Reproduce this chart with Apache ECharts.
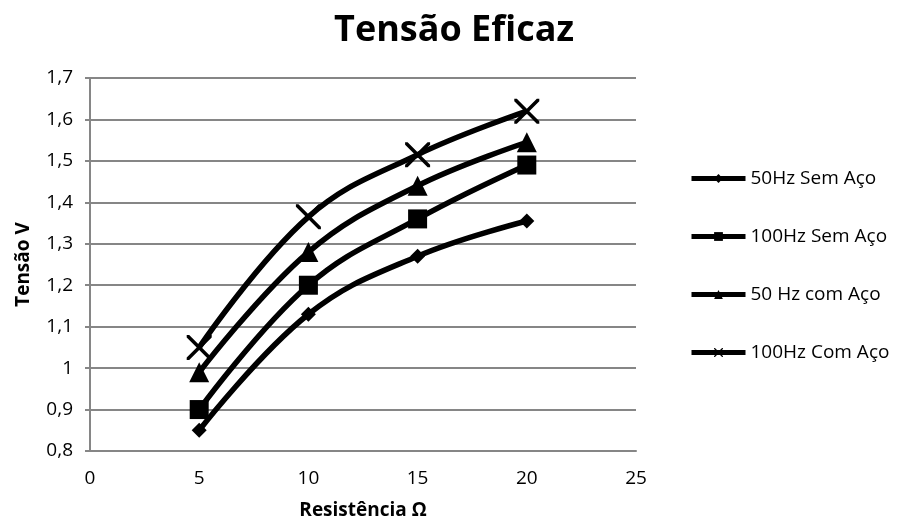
<!DOCTYPE html>
<html>
<head>
<meta charset="utf-8">
<script src="https://cdn.jsdelivr.net/npm/echarts@6/dist/echarts.min.js"></script>
<style>
  html, body { margin: 0; padding: 0; background: #fff; }
  #chart { width: 898px; height: 525px; }
</style>
</head>
<body>
<div id="chart"></div>
<script>
// Resistance (Ω) at which each measurement was taken
const resistencias = [5, 10, 15, 20];

// RMS voltage (V) per test configuration
const v50SemAco  = [0.85, 1.13, 1.27, 1.355];
const v100SemAco = [0.90, 1.20, 1.36, 1.49];
const v50ComAco  = [0.99, 1.28, 1.44, 1.545];
const v100ComAco = [1.05, 1.365, 1.515, 1.62];

const nomes = ['50Hz Sem Aço', '100Hz Sem Aço', '50 Hz com Aço', '100Hz Com Aço'];

const FONT = '"Open Sans", "Noto Sans", sans-serif';
const crossPath = 'path://M0,0 L2,0 L10,8 L18,0 L20,0 L20,2 L12,10 L20,18 L20,20 L18,20 L10,12 L2,20 L0,20 L0,18 L8,10 L0,2 Z';

function pares(vals) {
  return resistencias.map((r, i) => [r, vals[i]]);
}

function serie(nome, vals, symbol, size) {
  return {
    name: nome,
    type: 'line',
    smooth: 0.4,
    data: pares(vals),
    symbol: symbol,
    symbolSize: size,
    showAllSymbol: true,
    lineStyle: { color: '#000', width: 5.5 },
    itemStyle: { color: '#000', borderWidth: 0 },
    emphasis: { disabled: true },
    z: 3
  };
}

const chart = echarts.init(document.getElementById('chart'), null, { renderer: 'canvas' });

chart.setOption({
  animation: false,
  backgroundColor: '#fff',
  title: {
    text: 'Tensão Eficaz',
    left: 449,
    textAlign: 'center',
    top: 8,
    textStyle: { fontFamily: FONT, fontWeight: 'bold', fontSize: 36, color: '#000' }
  },
  grid: { left: 90, right: 262, top: 78, bottom: 74 },
  legend: {
    orient: 'vertical',
    left: 684,
    top: 164,
    itemWidth: 54,
    itemHeight: 11,
    itemGap: 39,
    data: nomes,
    lineStyle: { width: 5, color: '#000' },
    textStyle: { fontFamily: FONT, fontSize: 19, color: '#000' }
  },
  xAxis: {
    type: 'value',
    min: 0,
    max: 25,
    interval: 5,
    name: 'Resistência Ω',
    nameLocation: 'middle',
    nameGap: 50,
    nameTextStyle: { fontFamily: FONT, fontWeight: 'bold', fontSize: 19, color: '#000' },
    axisLine: { show: true, lineStyle: { color: '#868686', width: 2 } },
    axisTick: { show: false },
    splitLine: { show: false },
    axisLabel: { fontFamily: FONT, fontSize: 19, color: '#000', margin: 18 }
  },
  yAxis: {
    type: 'value',
    min: 0.8,
    max: 1.7,
    interval: 0.1,
    name: 'Tensão V',
    nameLocation: 'middle',
    nameGap: 57,
    nameTextStyle: { fontFamily: FONT, fontWeight: 'bold', fontSize: 19, color: '#000' },
    axisLine: { show: true, lineStyle: { color: '#868686', width: 2 } },
    axisTick: { show: true, length: 5, lineStyle: { color: '#868686', width: 2 } },
    splitLine: { show: true, lineStyle: { color: '#868686', width: 2 } },
    axisLabel: {
      fontFamily: FONT, fontSize: 19, color: '#000', margin: 17,
      formatter: v => String(Math.round(v * 10) / 10).replace('.', ',')
    }
  },
  series: [
    serie(nomes[0], v50SemAco, 'diamond', 15),
    serie(nomes[1], v100SemAco, 'rect', 19),
    serie(nomes[2], v50ComAco, 'triangle', 20),
    serie(nomes[3], v100ComAco, crossPath, 25)
  ]
});
</script>
</body>
</html>
